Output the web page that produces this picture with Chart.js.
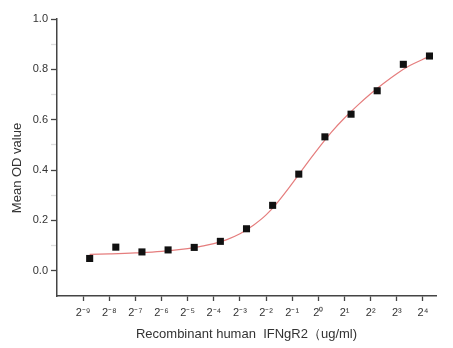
<!DOCTYPE html>
<html>
<head>
<meta charset="utf-8">
<script src="https://cdn.jsdelivr.net/npm/chart.js@4.4.1/dist/chart.umd.min.js"></script>
<style>
  html, body { margin: 0; padding: 0; background: #fff; }
  #wrap { width: 453px; height: 348px; }
</style>
</head>
<body>
<div id="wrap"><canvas id="odChart" width="453" height="348"></canvas></div>
<script>
// log2 of concentration (ug/ml) and mean OD
var concLog2 = [-8.75, -7.75, -6.75, -5.75, -4.75, -3.75, -2.75, -1.75, -0.75, 0.25, 1.25, 2.25, 3.25, 4.25];
var meanOD   = [0.049, 0.094, 0.075, 0.083, 0.093, 0.117, 0.167, 0.260, 0.384, 0.532, 0.622, 0.715, 0.820, 0.853];

// fitted curve
var fitLog2 = [-8.75, -8, -7, -6, -5, -4.5, -4, -3.5, -3, -2.5, -2, -1.5, -1, -0.5, 0, 0.5, 1, 1.5, 2, 2.5, 3, 3.5, 4, 4.25];
var fitOD   = [0.065, 0.067, 0.071, 0.077, 0.088, 0.097, 0.108, 0.124, 0.147, 0.180, 0.222, 0.280, 0.347, 0.418, 0.486, 0.551, 0.607, 0.657, 0.703, 0.745, 0.783, 0.815, 0.840, 0.850];

var xTicks = [-9, -8, -7, -6, -5, -4, -3, -2, -1, 0, 1, 2, 3, 4];
var yTicks = [0, 0.1, 0.2, 0.3, 0.4, 0.5, 0.6, 0.7, 0.8, 0.9, 1.0];
var yLabels = [0, 0.2, 0.4, 0.6, 0.8, 1.0];

var xTitle = 'Recombinant human  IFNgR2\uFF08ug/ml)';
var yTitle = 'Mean OD value';

var sup = {'-': '\u207B', '0': '\u2070', '1': '\u00B9', '2': '\u00B2', '3': '\u00B3', '4': '\u2074',
           '5': '\u2075', '6': '\u2076', '7': '\u2077', '8': '\u2078', '9': '\u2079'};
function powLabel(n){
  return '2' + String(n).split('').map(function(c){ return sup[c]; }).join('');
}
function isMajor(v){
  return yLabels.some(function(l){ return Math.abs(l - v) < 1e-6; });
}

var fontFam = '"Liberation Sans", Arial, sans-serif';
var textCol = '#333';

var yTitlePlugin = {
  id: 'yTitle',
  afterDraw: function(chart){
    var ctx = chart.ctx;
    ctx.save();
    ctx.translate(17, 168);
    ctx.rotate(-Math.PI / 2);
    ctx.font = '13px ' + fontFam;
    ctx.fillStyle = textCol;
    ctx.textAlign = 'center';
    ctx.textBaseline = 'middle';
    ctx.fillText(yTitle, 0, 0);
    ctx.restore();
  }
};

var ctx = document.getElementById('odChart');
var chart = new Chart(ctx, {
  type: 'scatter',
  data: {
    datasets: [{
      label: 'Fit',
      data: fitLog2.map(function(x, i){ return {x: x, y: fitOD[i]}; }),
      showLine: true,
      borderColor: '#e57d7d',
      borderWidth: 1.2,
      pointRadius: 0,
      tension: 0.4,
      order: 2
    },
    {
      label: 'Mean OD',
      data: concLog2.map(function(x, i){ return {x: x, y: meanOD[i]}; }),
      showLine: false,
      pointStyle: 'rect',
      pointRadius: 5,
      pointBackgroundColor: '#111',
      pointBorderWidth: 0,
      order: 1
    }]
  },
  options: {
    responsive: false,
    animation: false,
    layout: { padding: { top: 19, right: 17, left: 0, bottom: 0 } },
    plugins: { legend: { display: false }, tooltip: { enabled: false } },
    scales: {
      x: {
        type: 'linear',
        min: -10,
        max: 4.5,
        afterBuildTicks: function(scale){
          scale.ticks = xTicks.map(function(v){ return {value: v}; });
        },
        afterFit: function(scale){ scale.height = 52; },
        grid: { drawOnChartArea: false, drawTicks: true, tickLength: 5, tickColor: '#444', tickWidth: 1.3 },
        border: { display: true, color: '#444', width: 1.5 },
        ticks: {
          padding: 5,
          color: textCol,
          font: { family: fontFam, size: 11 },
          maxRotation: 0,
          autoSkip: false,
          callback: function(v){ return powLabel(v); }
        },
        title: {
          display: true,
          text: xTitle,
          color: textCol,
          font: { family: fontFam, size: 13 },
          padding: { top: 0, bottom: 6 }
        }
      },
      y: {
        min: -0.1,
        max: 1.0,
        afterBuildTicks: function(scale){
          scale.ticks = yTicks.map(function(v){ return {value: v}; });
        },
        afterFit: function(scale){ scale.width = 57; },
        grid: {
          drawOnChartArea: false,
          drawTicks: true,
          tickLength: 6,
          tickWidth: 1.3,
          tickColor: function(c){ return isMajor(c.tick.value) ? '#444' : '#ddd'; }
        },
        border: { display: true, color: '#444', width: 1.5 },
        ticks: {
          padding: 3,
          color: textCol,
          font: { family: fontFam, size: 11 },
          autoSkip: false,
          callback: function(v){ return isMajor(v) ? v.toFixed(1) : ''; }
        }
      }
    }
  },
  plugins: [yTitlePlugin]
});
</script>
</body>
</html>
